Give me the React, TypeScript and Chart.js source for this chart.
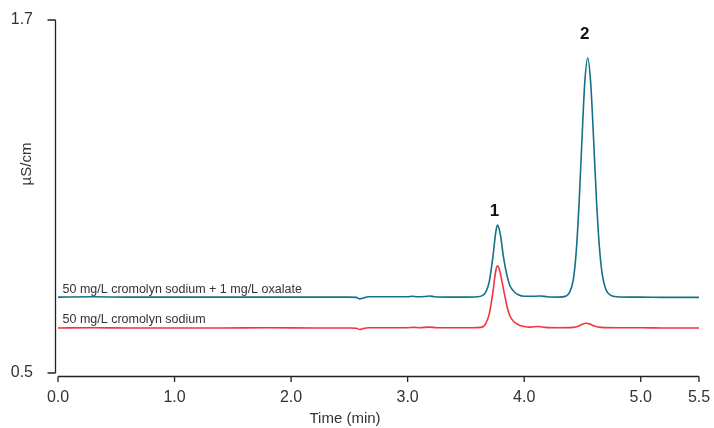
import React, { useEffect, useRef } from "react";
import { Chart, registerables } from "chart.js";

Chart.register(...registerables);

const xTicks = [0, 1, 2, 3, 4, 5, 5.5];
const yTicks = [0.5, 1.7];

const blueTimes = [0.0, 0.3, 0.6, 1.0, 1.4, 1.8, 2.2, 2.5, 2.56, 2.59, 2.62, 2.66, 2.75, 3.0, 3.04, 3.08, 3.15, 3.19, 3.23, 3.35, 3.5, 3.6, 3.64, 3.67, 3.7, 3.73, 3.755, 3.77, 3.785, 3.8, 3.82, 3.84, 3.86, 3.88, 3.91, 3.95, 4.0, 4.1, 4.14, 4.2, 4.3, 4.36, 4.39, 4.42, 4.445, 4.47, 4.495, 4.52, 4.545, 4.57, 4.595, 4.62, 4.645, 4.67, 4.7, 4.74, 4.8, 4.9, 5.0, 5.2, 5.4, 5.5];
const blueValues = [0.758, 0.759, 0.758, 0.758, 0.758, 0.758, 0.758, 0.758, 0.757, 0.752, 0.755, 0.759, 0.759, 0.759, 0.761, 0.759, 0.76, 0.762, 0.759, 0.758, 0.758, 0.759, 0.763, 0.775, 0.81, 0.89, 0.975, 1.003, 0.99, 0.96, 0.9, 0.855, 0.82, 0.795, 0.778, 0.766, 0.761, 0.761, 0.762, 0.759, 0.758, 0.762, 0.775, 0.814, 0.904, 1.068, 1.287, 1.488, 1.571, 1.49, 1.3, 1.09, 0.93, 0.835, 0.785, 0.765, 0.759, 0.758, 0.758, 0.757, 0.757, 0.757];

const redTimes = [0.0, 0.3, 0.6, 1.0, 1.4, 1.8, 2.2, 2.5, 2.56, 2.59, 2.62, 2.66, 2.75, 3.0, 3.05, 3.1, 3.19, 3.25, 3.4, 3.55, 3.64, 3.67, 3.7, 3.73, 3.755, 3.77, 3.785, 3.8, 3.82, 3.84, 3.86, 3.88, 3.91, 3.95, 4.0, 4.05, 4.12, 4.18, 4.3, 4.42, 4.47, 4.5, 4.53, 4.56, 4.6, 4.66, 4.8, 5.0, 5.2, 5.5];
const redValues = [0.653, 0.654, 0.653, 0.653, 0.653, 0.654, 0.653, 0.653, 0.652, 0.648, 0.651, 0.654, 0.654, 0.654, 0.655, 0.654, 0.656, 0.654, 0.654, 0.654, 0.656, 0.668, 0.7, 0.77, 0.845, 0.864, 0.855, 0.83, 0.79, 0.75, 0.715, 0.692, 0.675, 0.664, 0.658, 0.656, 0.658, 0.655, 0.654, 0.655, 0.66, 0.666, 0.669, 0.667, 0.66, 0.655, 0.654, 0.654, 0.653, 0.653];

const blueLabel = "50 mg/L cromolyn sodium + 1 mg/L oxalate";
const redLabel = "50 mg/L cromolyn sodium";
const blueBaseline = 0.758;
const redBaseline = 0.653;
const peakLabels = ["1", "2"];
const peakTimes = [3.77, 4.545];
const peakLabelValues = [1.051, 1.65];

const xTitle = "Time (min)";
const yTitle = "µS/cm";

const BLUE = "#16708a";
const RED = "#f2343c";
const FONT = "'Liberation Sans', Arial, sans-serif";

const customPlugin = {
  id: "customAxes",
  afterDraw(chart: any) {
    const { ctx } = chart;
    const x = chart.scales.x;
    const y = chart.scales.y;
    ctx.save();
    ctx.strokeStyle = "#222";
    ctx.lineWidth = 1.3;
    const yx = x.getPixelForValue(0) - 2.5;
    ctx.beginPath();
    ctx.moveTo(yx, y.getPixelForValue(yTicks[yTicks.length - 1]));
    ctx.lineTo(yx, y.getPixelForValue(yTicks[0]));
    yTicks.forEach((v) => {
      const py = y.getPixelForValue(v);
      ctx.moveTo(yx - 8, py);
      ctx.lineTo(yx, py);
    });
    const ay = y.getPixelForValue(yTicks[0]) + 3.5;
    ctx.moveTo(x.getPixelForValue(xTicks[0]), ay);
    ctx.lineTo(x.getPixelForValue(xTicks[xTicks.length - 1]), ay);
    xTicks.forEach((v) => {
      const px = x.getPixelForValue(v);
      ctx.moveTo(px, ay);
      ctx.lineTo(px, ay + 5.5);
    });
    ctx.stroke();

    // series labels
    ctx.fillStyle = "#333";
    ctx.font = `12.5px ${FONT}`;
    ctx.textAlign = "left";
    ctx.textBaseline = "alphabetic";
    const lx = x.getPixelForValue(0) + 4.5;
    ctx.fillText(blueLabel, lx, y.getPixelForValue(blueBaseline) - 4);
    ctx.fillText(redLabel, lx, y.getPixelForValue(redBaseline) - 5);

    // peak labels
    ctx.fillStyle = "#111";
    ctx.font = `bold 17px ${FONT}`;
    ctx.textAlign = "center";
    ctx.textBaseline = "middle";
    peakLabels.forEach((lab, i) => {
      ctx.fillText(lab, x.getPixelForValue(peakTimes[i]) - 3, y.getPixelForValue(peakLabelValues[i]));
    });

    // titles
    ctx.fillStyle = "#333";
    ctx.font = `15px ${FONT}`;
    ctx.fillText(xTitle, 345, 419);
    ctx.translate(27, 164);
    ctx.rotate(-Math.PI / 2);
    ctx.fillText(yTitle, 0, 0);
    ctx.restore();
  },
};

export default function App() {
  const ref = useRef<HTMLCanvasElement>(null);
  useEffect(() => {
    if (!ref.current) return;
    const chart = new Chart(ref.current, {
      type: "line",
      data: {
        datasets: [
          {
            data: blueTimes.map((t, i) => ({ x: t, y: blueValues[i] })),
            borderColor: BLUE,
            borderWidth: 1.6,
            pointRadius: 0,
            cubicInterpolationMode: "monotone",
          },
          {
            data: redTimes.map((t, i) => ({ x: t, y: redValues[i] })),
            borderColor: RED,
            borderWidth: 1.6,
            pointRadius: 0,
            cubicInterpolationMode: "monotone",
          },
        ],
      },
      options: {
        animation: false,
        responsive: false,
        events: [],
        layout: { padding: { left: 0, right: 15, top: 20, bottom: 0 } },
        plugins: { legend: { display: false }, tooltip: { enabled: false } },
        scales: {
          x: {
            type: "linear",
            min: 0,
            max: 5.5,
            border: { display: false },
            grid: { display: false, drawTicks: false },
            afterBuildTicks: (s: any) => {
              s.ticks = xTicks.map((v) => ({ value: v }));
            },
            afterFit: (s: any) => {
              s.height = 55;
              s.paddingLeft = 0;
              s.paddingRight = 0;
            },
            ticks: {
              padding: 15,
              color: "#333",
              font: { family: FONT, size: 16 },
              maxRotation: 0,
              autoSkip: false,
              callback: (v: any) => Number(v).toFixed(1),
            },
          },
          y: {
            type: "linear",
            min: 0.5,
            max: 1.7,
            border: { display: false },
            grid: { display: false, drawTicks: false },
            afterBuildTicks: (s: any) => {
              s.ticks = yTicks.map((v) => ({ value: v }));
            },
            afterFit: (s: any) => {
              s.width = 58;
              s.paddingTop = 0;
              s.paddingBottom = 0;
            },
            ticks: {
              padding: 25,
              color: "#333",
              font: { family: FONT, size: 16 },
              callback: (v: any) => Number(v).toFixed(1),
            },
          },
        },
      },
      plugins: [customPlugin],
    });
    return () => chart.destroy();
  }, []);
  return (
    <div style={{ position: "absolute", left: 0, top: 0, width: 714, height: 428, background: "#fff" }}>
      <canvas ref={ref} width={714} height={428} />
    </div>
  );
}
